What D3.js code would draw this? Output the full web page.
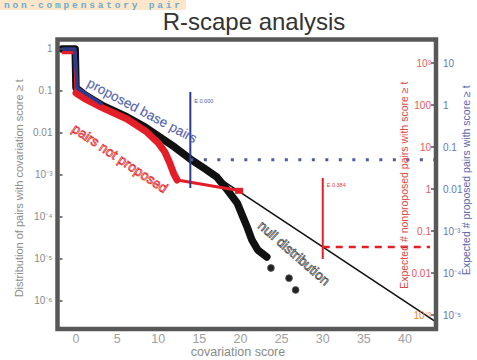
<!DOCTYPE html>
<html>
<head>
<meta charset="utf-8">
<script src="https://cdn.jsdelivr.net/npm/d3@7"></script>
<style>
  body { margin: 0; background: #fff; }
  svg { display: block; }
  text { font-family: "Liberation Sans", Arial, sans-serif; }
</style>
</head>
<body>
<svg id="chart" width="477" height="360"></svg>
<script>
// Survival curves: fraction of pairs with covariation score >= t
const allScores      = [-1.7, -0.1, 0.0, 1.1, 3.3, 6.2, 8.4, 10.2, 12.0, 13.9, 15.7, 17.1, 18.4, 19.6, 20.3, 20.8, 21.4, 22.1, 23.2];
const allFractions   = [1.0, 1.0, 0.118, 0.080, 0.044, 0.024, 0.0139, 0.0080, 0.0046, 0.0024, 0.00139, 9.0e-4, 4.4e-4, 2.15e-4, 1.0e-4, 5.8e-5, 2.8e-5, 1.64e-5, 1.12e-5];
const tailScores     = [23.7, 25.9, 26.7];
const tailFractions  = [6.1e-6, 3.5e-6, 1.83e-6];

const notProposedScores    = [-1.7, -0.1, 0.0, 1.1, 3.3, 6.2, 8.6, 10.0, 10.8, 11.4, 11.9, 12.3, 19.95];
const notProposedFractions = [0.82, 0.82, 0.0896, 0.065, 0.039, 0.0215, 0.0106, 0.0058, 0.00353, 0.00193, 0.00106, 7.6e-4, 4.2e-4];

const proposedScores    = [-1.7, -0.15, 0.15, 3.2];
const proposedFractions = [1.0, 1.0, 0.118, 0.048];

// Null (expected) tail, straight in log space
const nullScores    = [6, 43.8];
const nullFractions = [0.0252, 3.13e-7];

// E-value cut-offs
const proposedCut    = { score: 13.9, top: 0.095, bottom: 4.9e-4, level: 2.3e-3, label: "E 0.000" };
const notProposedCut = { score: 30.0, top: 8.5e-4, bottom: 1.0e-5, level: 1.93e-5, label: "E 0.384" };

// Ticks
const xTicks = [0, 5, 10, 15, 20, 25, 30, 35, 40];
const leftTicks  = [1, 0.1, 0.01, 1e-3, 1e-4, 1e-5, 1e-6];
const leftLabels = ["1", "0.1", "0.01", "10\u207B\u00B3", "10\u207B\u2074", "10\u207B\u2075", "10\u207B\u2076"];
const redTicks   = [1000, 100, 10, 1, 0.1, 0.01, 1e-3];
const redLabels  = ["10\u00B3", "100", "10", "1", "0.1", "0.01", "10\u207B\u00B3"];
const blueTicks  = [10, 1, 0.1, 0.01, 1e-3, 1e-4, 1e-5];
const blueLabels = ["10", "1", "0.1", "0.01", "10\u207B\u00B3", "10\u207B\u2074", "10\u207B\u2075"];

const svg = d3.select("#chart");
const box = { left: 57.5, right: 436, top: 39.5, bottom: 329 };

const x = d3.scaleLinear().domain([-2.25, 43.77]).range([box.left, box.right]);
const y = d3.scaleLog().domain([Math.pow(10, 0.226), Math.pow(10, -6.667)]).range([box.top, box.bottom]);
const yRed = d3.scaleLog().domain([Math.pow(10, 3.56), Math.pow(10, -3.333)]).range([box.top, box.bottom]);
const yBlue = d3.scaleLog().domain([Math.pow(10, 1.56), Math.pow(10, -5.333)]).range([box.top, box.bottom]);

// header strip
svg.append("rect").attr("x", 0).attr("y", 0).attr("width", 186).attr("height", 10).attr("fill", "#fde6c9");
svg.append("text").attr("x", 4).attr("y", 8)
  .style("font-family", "'Liberation Mono', 'DejaVu Sans Mono', monospace")
  .style("font-size", "9.5px").style("font-weight", "bold").attr("fill", "#6aaed0")
  .attr("textLength", 176).attr("lengthAdjust", "spacing")
  .text("non-compensatory pair");

// title
svg.append("text").attr("x", 254).attr("y", 30).attr("text-anchor", "middle")
  .style("font-size", "24px").attr("fill", "#333").text("R-scape analysis");

const line = d3.line().x(d => x(d[0])).y(d => y(d[1])).curve(d3.curveLinear);
const zip = (a, b) => a.map((v, i) => [v, b[i]]);

// null distribution
svg.append("path").attr("d", line(zip(nullScores, nullFractions)))
  .attr("fill", "none").attr("stroke", "#111").attr("stroke-width", 1.6);

// all pairs
svg.append("path").attr("d", line(zip(allScores, allFractions)))
  .attr("fill", "none").attr("stroke", "#111").attr("stroke-width", 7.5)
  .attr("stroke-linejoin", "round").attr("stroke-linecap", "round");
svg.selectAll("circle.tail").data(zip(tailScores, tailFractions)).enter().append("circle")
  .attr("class", "tail").attr("cx", d => x(d[0])).attr("cy", d => y(d[1])).attr("r", 3.4)
  .attr("fill", "#222").attr("stroke", "#555").attr("stroke-width", 0.8);

// pairs not proposed
const np = zip(notProposedScores, notProposedFractions);
svg.append("path").attr("d", line(np.slice(0, 3)))
  .attr("fill", "none").attr("stroke", "#e41e26").attr("stroke-width", 3.5)
  .attr("stroke-linejoin", "round");
svg.append("path").attr("d", line(np.slice(2, np.length - 1)))
  .attr("fill", "none").attr("stroke", "#e41e26").attr("stroke-width", 7)
  .attr("stroke-linejoin", "round").attr("stroke-linecap", "round");
svg.append("path").attr("d", line(np.slice(np.length - 2)))
  .attr("fill", "none").attr("stroke", "#e41e26").attr("stroke-width", 3);
const last = np[np.length - 1];
svg.append("rect").attr("x", x(last[0]) - 5).attr("y", y(last[1]) - 3).attr("width", 8).attr("height", 6)
  .attr("fill", "#e41e26");

// proposed base pairs
svg.append("path").attr("d", line(zip(proposedScores, proposedFractions)))
  .attr("fill", "none").attr("stroke", "#2e3a8c").attr("stroke-width", 3.5)
  .attr("stroke-linejoin", "round");

// cut-off markers
svg.append("line").attr("x1", x(proposedCut.score)).attr("x2", x(proposedCut.score))
  .attr("y1", y(proposedCut.top)).attr("y2", y(proposedCut.bottom))
  .attr("stroke", "#2e3a8c").attr("stroke-width", 2);
svg.append("text").attr("x", x(proposedCut.score) + 4).attr("y", y(proposedCut.top) + 11)
  .style("font-size", "5.5px").attr("fill", "#4a57a0").text(proposedCut.label);
svg.append("line").attr("x1", x(proposedCut.score)).attr("x2", box.right)
  .attr("y1", y(proposedCut.level)).attr("y2", y(proposedCut.level))
  .attr("stroke", "#4d5aa8").attr("stroke-width", 3).attr("stroke-dasharray", "3,10.5");

svg.append("line").attr("x1", x(notProposedCut.score)).attr("x2", x(notProposedCut.score))
  .attr("y1", y(notProposedCut.top)).attr("y2", y(notProposedCut.bottom))
  .attr("stroke", "#e41e26").attr("stroke-width", 2);
svg.append("text").attr("x", x(notProposedCut.score) + 4).attr("y", y(notProposedCut.top) + 9)
  .style("font-size", "5.5px").attr("fill", "#e04040").text(notProposedCut.label);
svg.append("line").attr("x1", x(notProposedCut.score)).attr("x2", box.right - 6)
  .attr("y1", y(notProposedCut.level)).attr("y2", y(notProposedCut.level))
  .attr("stroke", "#e41e26").attr("stroke-width", 2.5).attr("stroke-dasharray", "7,6");

// annotations
function note(txt, px, py, angle, size, fill, stroke, sw) {
  svg.append("text").attr("transform", `translate(${px},${py}) rotate(${angle})`)
    .style("font-size", size + "px").attr("fill", fill)
    .attr("stroke", stroke).attr("stroke-width", sw).text(txt);
}
note("proposed base pairs", 86, 86, 28, 13.5, "#5561ac", "#5561ac", 0.1);
note("pairs not proposed", 71, 131, 34, 13.5, "#ffffff", "#e32a2a", 0.75);
note("null distribution", 257, 227, 41, 13.5, "#f2f2f2", "#4a4a4a", 0.7);

// frame
svg.append("rect").attr("x", box.left).attr("y", box.top)
  .attr("width", box.right - box.left).attr("height", box.bottom - box.top)
  .attr("fill", "none").attr("stroke", "#585858").attr("stroke-width", 4.5);

// left axis
const gl = svg.append("g");
leftTicks.forEach((t, i) => {
  gl.append("line").attr("x1", box.left + 2).attr("x2", box.left + 5).attr("y1", y(t)).attr("y2", y(t))
    .attr("stroke", "#555").attr("stroke-width", 1.5);
  gl.append("text").attr("x", box.left - 5).attr("y", y(t)).attr("dy", "0.35em")
    .attr("text-anchor", "end").style("font-size", "10px").attr("fill", "#8a8a8a").text(leftLabels[i]);
});
svg.append("text").attr("transform", `translate(23,${(box.top + box.bottom) / 2 + 4}) rotate(-90)`)
  .attr("text-anchor", "middle").style("font-size", "11px").attr("fill", "#8c8c8c")
  .text("Distribution of pairs with covariation score \u2265 t");

// bottom axis
xTicks.forEach(t => {
  svg.append("text").attr("x", x(t)).attr("y", 343).attr("text-anchor", "middle")
    .style("font-size", "12.5px").attr("fill", "#a0a0a0").text(t);
});
svg.append("text").attr("x", 238).attr("y", 356).attr("text-anchor", "middle")
  .style("font-size", "12.5px").attr("fill", "#8a8a8a").text("covariation score");

// right axes
redTicks.forEach((t, i) => {
  svg.append("line").attr("x1", box.right - 5).attr("x2", box.right - 2).attr("y1", yRed(t)).attr("y2", yRed(t))
    .attr("stroke", "#555").attr("stroke-width", 1.5);
  svg.append("text").attr("x", box.right - 5).attr("y", yRed(t)).attr("dy", "0.35em")
    .attr("text-anchor", "end").style("font-size", "10px")
    .attr("fill", i === redTicks.length - 1 ? "#f08a2a" : "#e85a5a").text(redLabels[i]);
});
blueTicks.forEach((t, i) => {
  svg.append("text").attr("x", box.right + 7).attr("y", yBlue(t)).attr("dy", "0.35em")
    .attr("text-anchor", "start").style("font-size", "10px").attr("fill", "#6a76b6").text(blueLabels[i]);
});
svg.append("text").attr("transform", `translate(408,${(box.top + box.bottom) / 2 + 1}) rotate(-90)`)
  .attr("text-anchor", "middle").style("font-size", "10.5px").attr("fill", "#e04848")
  .text("Expected # nonproposed pairs with score \u2265 t");
svg.append("text").attr("transform", `translate(470,${(box.top + box.bottom) / 2 - 4}) rotate(-90)`)
  .attr("text-anchor", "middle").style("font-size", "10.5px").attr("fill", "#5a66ae")
  .text("Expected # proposed pairs with score \u2265 t");
</script>
</body>
</html>
